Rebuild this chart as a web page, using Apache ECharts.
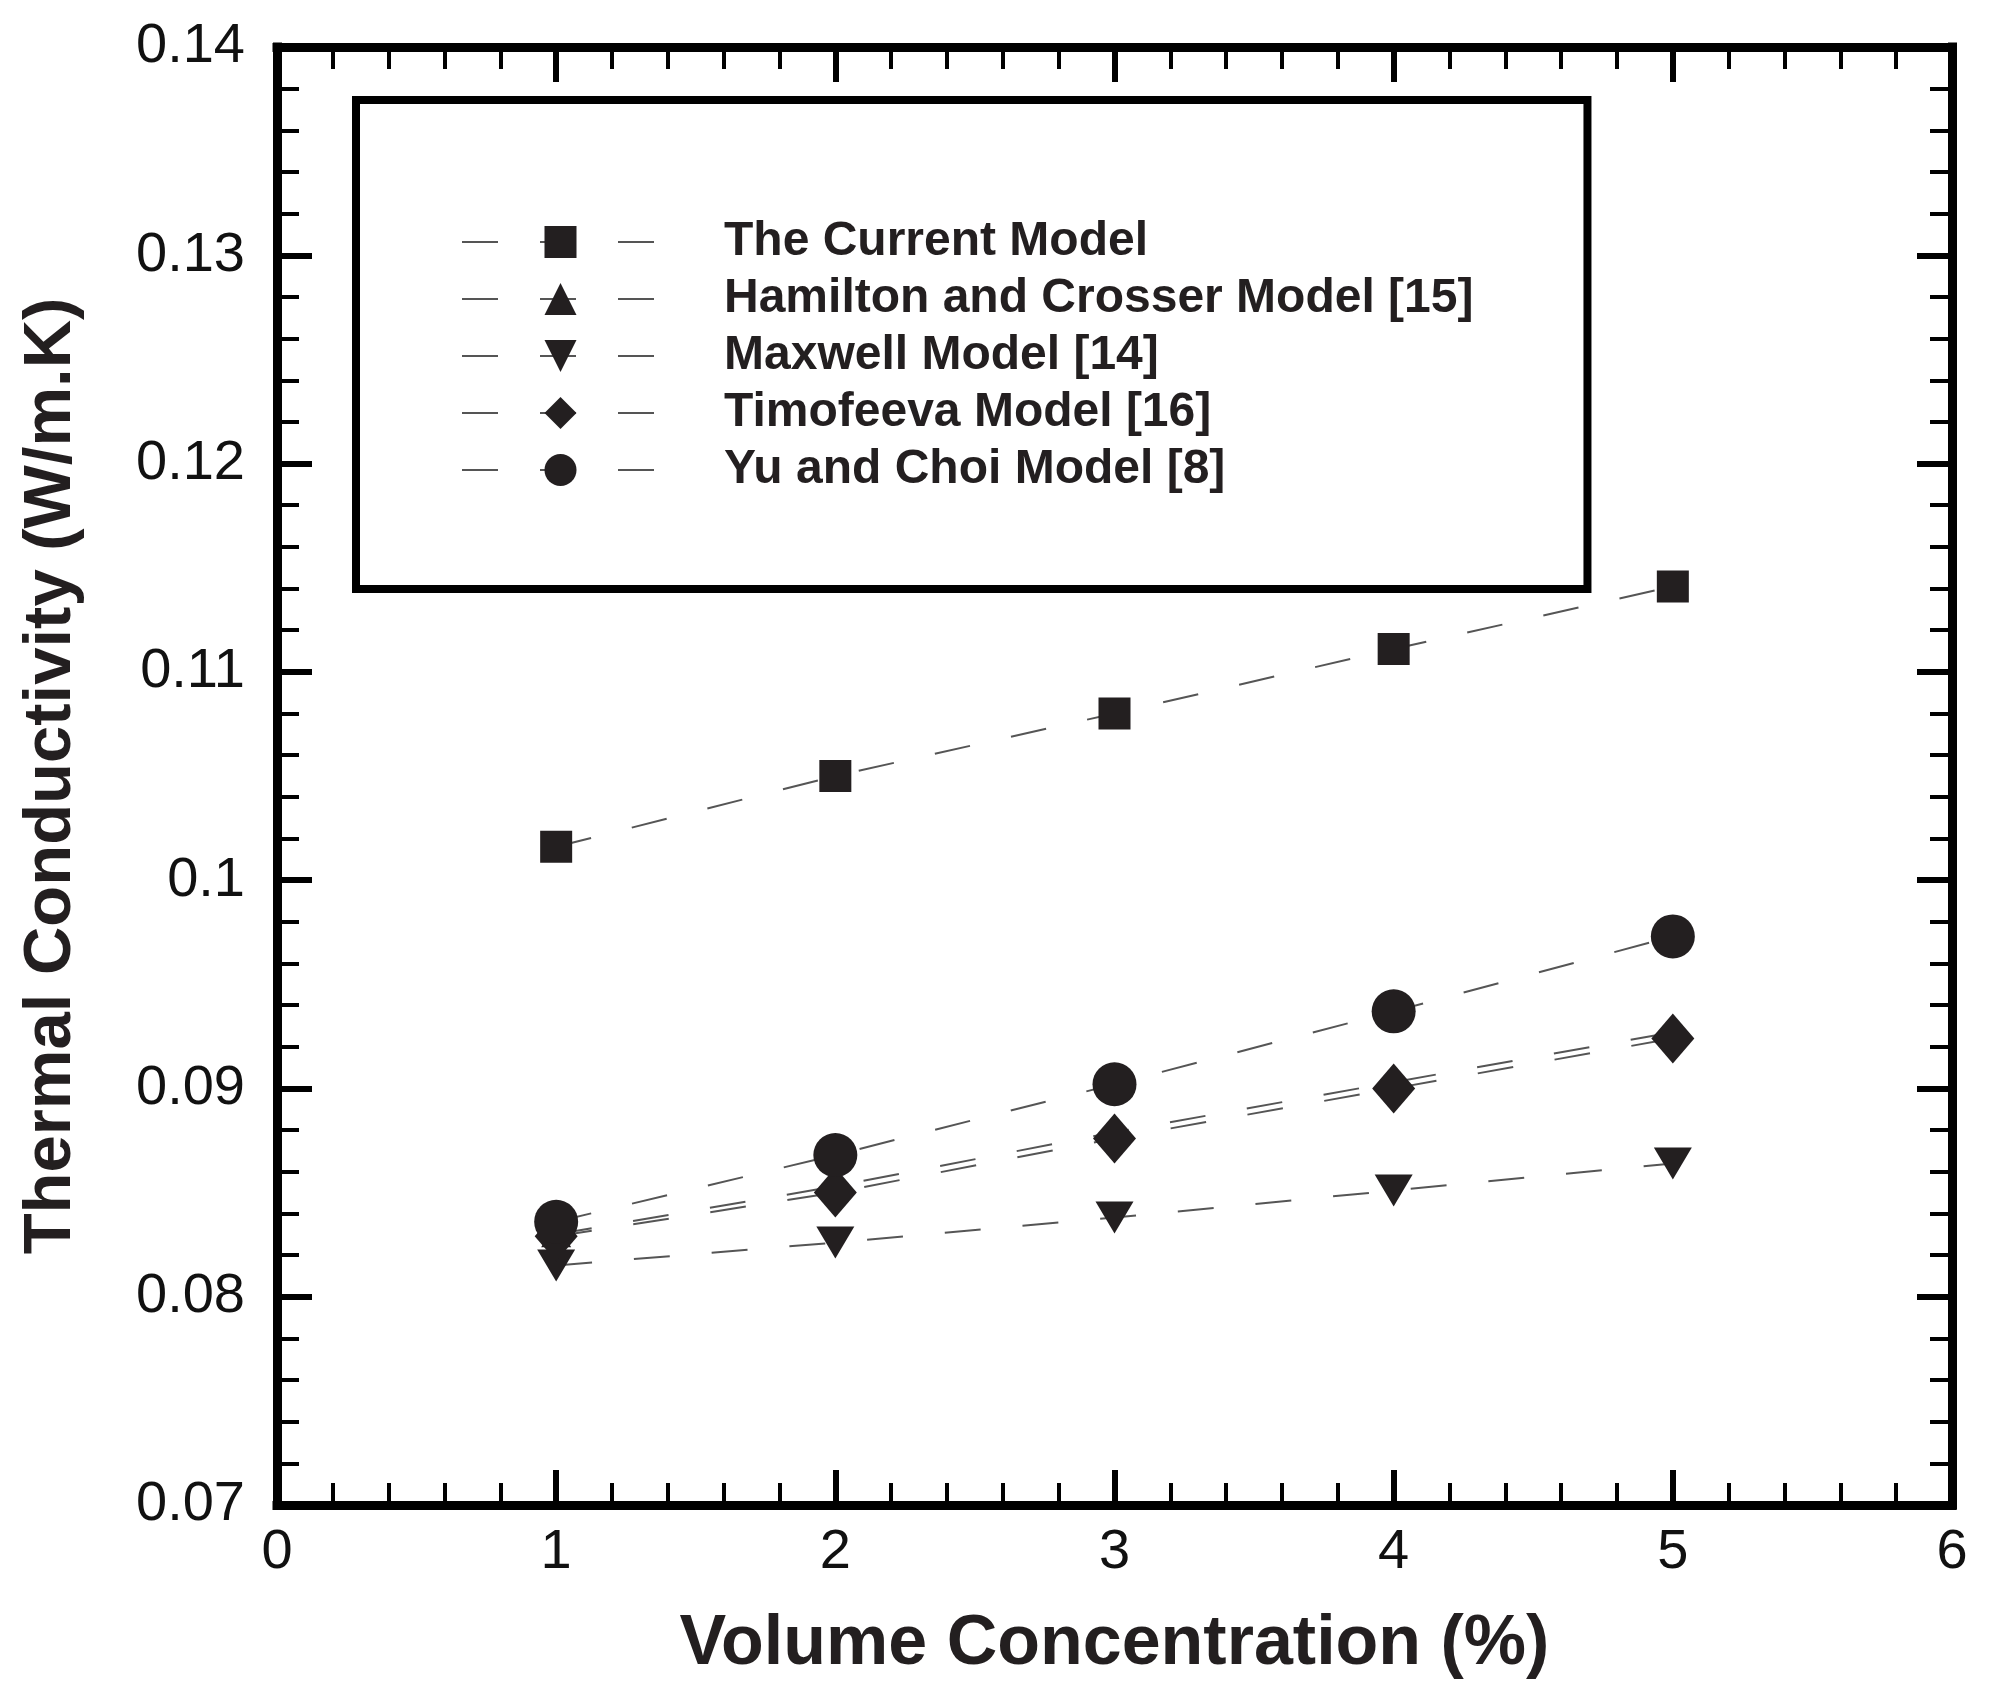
<!DOCTYPE html>
<html>
<head>
<meta charset="utf-8">
<script src="https://cdn.jsdelivr.net/npm/echarts@6/dist/echarts.min.js"></script>
<style>
html,body{margin:0;padding:0;background:#fff;}
#chart{width:1995px;height:1702px;}
</style>
</head>
<body>
<div id="chart"></div>
<script>
// ---- data ----
var concentration = [1, 2, 3, 4, 5];
var currentModel = [0.1016, 0.1050, 0.1080, 0.1111, 0.1141];
var hamiltonCrosser = [0.0830, 0.0853, 0.0879, 0.0903, 0.0927];
var maxwell = [0.0815, 0.0826, 0.0838, 0.0851, 0.0864];
var timofeeva = [0.0829, 0.0850, 0.0876, 0.0900, 0.0924];
var yuChoi = [0.0836, 0.0868, 0.0902, 0.0937, 0.0973];
var seriesNames = ['The Current Model', 'Hamilton and Crosser Model [15]', 'Maxwell Model [14]', 'Timofeeva Model [16]', 'Yu and Choi Model [8]'];
var xTitle = 'Volume Concentration (%)';
var yTitle = 'Thermal Conductivity (W/m.K)';

function pairs(vals) {
  return concentration.map(function (c, i) { return [c, vals[i]]; });
}

var INK = '#231f20';
var LINE = '#555555';
var FONT = '"Liberation Sans", Arial, Helvetica, sans-serif';
var dash = [36, 42];

function axisCommon(showLabels) {
  return {
    axisLine: { show: true, onZero: false, lineStyle: { color: '#000', width: 9, cap: 'square' } },
    axisTick: { show: true, inside: true, length: 35, lineStyle: { color: '#000', width: 6 } },
    minorTick: { show: true, splitNumber: 5, length: 22, lineStyle: { color: '#000', width: 4 } },
    splitLine: { show: false },
    minorSplitLine: { show: false },
    axisLabel: { show: showLabels, color: '#111', fontSize: 56, fontFamily: FONT }
  };
}

function mk(name, vals, symbol, size, rotate) {
  return {
    name: name,
    type: 'line',
    data: pairs(vals),
    symbol: symbol,
    symbolSize: size,
    symbolRotate: rotate || 0,
    showAllSymbol: true,
    itemStyle: { color: INK, opacity: 1 },
    lineStyle: { color: LINE, width: 2, type: dash },
    emphasis: { disabled: true },
    animation: false
  };
}

var chart = echarts.init(document.getElementById('chart'), null, { renderer: 'canvas' });

var xBottom = Object.assign(axisCommon(true), {
  type: 'value', position: 'bottom', min: 0, max: 6, interval: 1,
  name: xTitle, nameLocation: 'middle', nameGap: 105,
  nameTextStyle: { fontSize: 70, fontWeight: 'bold', color: INK, fontFamily: FONT }
});
xBottom.axisLabel.margin = 20;
var xTop = Object.assign(axisCommon(false), {
  type: 'value', position: 'top', min: 0, max: 6, interval: 1
});
var yLeft = Object.assign(axisCommon(true), {
  type: 'value', position: 'left', min: 0.07, max: 0.14, interval: 0.01,
  name: yTitle, nameLocation: 'middle', nameGap: 192,
  nameTextStyle: { fontSize: 67, fontWeight: 'bold', color: INK, fontFamily: FONT }
});
yLeft.axisLabel.margin = 32;
var yRight = Object.assign(axisCommon(false), {
  type: 'value', position: 'right', min: 0.07, max: 0.14, interval: 0.01
});

chart.setOption({
  backgroundColor: '#fff',
  animation: false,
  grid: { left: 277, right: 43, top: 47, bottom: 197, containLabel: false },
  xAxis: [xBottom, xTop],
  yAxis: [yLeft, yRight],
  legend: {
    show: true,
    orient: 'vertical',
    left: 356,
    top: 100,
    padding: [118, 114, 95, 105],
    borderColor: '#000',
    borderWidth: 8,
    itemWidth: 197,
    itemHeight: 40,
    itemGap: 9,
    selectedMode: false,
    data: seriesNames,
    textStyle: { fontSize: 48, fontWeight: 'bold', color: INK, fontFamily: FONT, lineHeight: 48, padding: [0, 0, 0, 60] }
  },
  series: [
    mk(seriesNames[0], currentModel, 'rect', 32),
    mk(seriesNames[1], hamiltonCrosser, 'triangle', [30, 26]),
    mk(seriesNames[2], maxwell, 'triangle', [38, 32], 180),
    mk(seriesNames[3], timofeeva, 'diamond', [43, 50]),
    mk(seriesNames[4], yuChoi, 'circle', 44)
  ]
});
</script>
</body>
</html>
